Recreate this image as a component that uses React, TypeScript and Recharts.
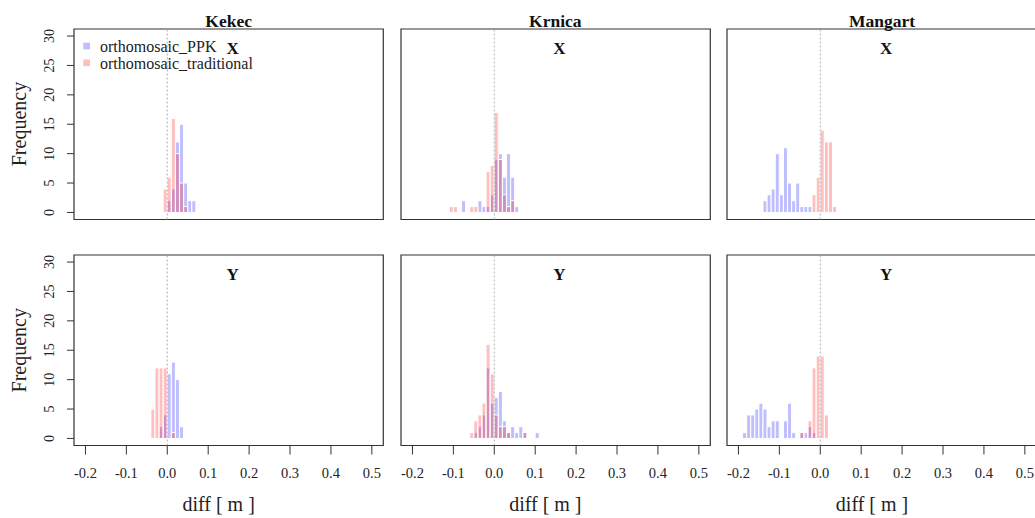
import React from 'react';
import { BarChart, Bar, XAxis, YAxis, ReferenceLine, ReferenceArea } from 'recharts';

// ---------- data (histogram counts per 0.01 m bin; *_START = index k of first bin lower edge k*0.01) ----------
const SITES = ['Kekec', 'Krnica', 'Mangart'];
const COMPONENTS = ['X', 'Y'];
const SERIES_NAMES = ['orthomosaic_PPK', 'orthomosaic_traditional'];
const X_TICKS = [-0.2, -0.1, 0, 0.1, 0.2, 0.3, 0.4, 0.5];
const Y_TICKS = [0, 5, 10, 15, 20, 25, 30];
const BIN_WIDTH = 0.01;

const KEKEC_X_PPK_START = 0;
const KEKEC_X_PPK = [2, 4, 12, 15, 5, 2, 2];
const KEKEC_X_TRAD_START = -1;
const KEKEC_X_TRAD = [4, 6, 16, 10, 5, 1];

const KRNICA_X_PPK_START = -8;
const KRNICA_X_PPK = [2, 0, 0, 0, 2, 1, 1, 3, 9, 10, 6, 10, 6, 1];
const KRNICA_X_TRAD_START = -11;
const KRNICA_X_TRAD = [1, 1, 0, 0, 0, 1, 1, 0, 0, 7, 8, 17, 9, 3, 1, 2];

const MANGART_X_PPK_START = -14;
const MANGART_X_PPK = [2, 3, 4, 10, 3, 11, 5, 2, 5, 1, 1, 1];
const MANGART_X_TRAD_START = -2;
const MANGART_X_TRAD = [3, 6, 14, 12, 12, 1];

const KEKEC_Y_PPK_START = -2;
const KEKEC_Y_PPK = [2, 4, 11, 13, 10, 2];
const KEKEC_Y_TRAD_START = -4;
const KEKEC_Y_TRAD = [5, 12, 12, 12, 0, 1];

const KRNICA_Y_PPK_START = -5;
const KRNICA_Y_PPK = [1, 2, 4, 12, 6, 7, 8, 3, 1, 2, 1, 2, 1, 0, 0, 1];
const KRNICA_Y_TRAD_START = -6;
const KRNICA_Y_TRAD = [1, 3, 4, 6, 16, 11, 4, 2, 2, 1, 0, 0, 0, 1];

const MANGART_Y_PPK_START = -19;
const MANGART_Y_PPK = [1, 4, 4, 5, 6, 5, 2, 3, 3, 0, 3, 6, 1, 0, 1, 1, 2, 1];
const MANGART_Y_TRAD_START = -5;
const MANGART_Y_TRAD = [1, 0, 3, 12, 14, 14, 4];

// ---------- layout ----------
const X_MIN = -0.228;
const X_MAX = 0.528;
const Y_MIN = -1.2;
const Y_MAX = 31.2;
const PLOT_LEFT = [74, 400.7, 727.4];
const PLOT_TOP = [28.8, 255];
const PLOT_W = 309.3;
const PLOT_H = 190.5;
const Y_AXIS_W = 80;
const M_TOP = 20;
const M_RIGHT = 10;
const FONT = '"Liberation Serif", "Times New Roman", serif';
const INK = '#222';

type Panel = { site: number; comp: number; ppk: number[]; ppkStart: number; trad: number[]; tradStart: number };

const PANELS: Panel[] = [
  { site: 0, comp: 0, ppk: KEKEC_X_PPK, ppkStart: KEKEC_X_PPK_START, trad: KEKEC_X_TRAD, tradStart: KEKEC_X_TRAD_START },
  { site: 1, comp: 0, ppk: KRNICA_X_PPK, ppkStart: KRNICA_X_PPK_START, trad: KRNICA_X_TRAD, tradStart: KRNICA_X_TRAD_START },
  { site: 2, comp: 0, ppk: MANGART_X_PPK, ppkStart: MANGART_X_PPK_START, trad: MANGART_X_TRAD, tradStart: MANGART_X_TRAD_START },
  { site: 0, comp: 1, ppk: KEKEC_Y_PPK, ppkStart: KEKEC_Y_PPK_START, trad: KEKEC_Y_TRAD, tradStart: KEKEC_Y_TRAD_START },
  { site: 1, comp: 1, ppk: KRNICA_Y_PPK, ppkStart: KRNICA_Y_PPK_START, trad: KRNICA_Y_TRAD, tradStart: KRNICA_Y_TRAD_START },
  { site: 2, comp: 1, ppk: MANGART_Y_PPK, ppkStart: MANGART_Y_PPK_START, trad: MANGART_Y_TRAD, tradStart: MANGART_Y_TRAD_START },
];

function buildRows(p: Panel) {
  const rows: { x: number; ppk: number; trad: number }[] = [];
  for (let k = -23; k <= 53; k++) {
    const pi = k - p.ppkStart;
    const ti = k - p.tradStart;
    rows.push({
      x: Math.round((k + 0.5) * BIN_WIDTH * 10000) / 10000,
      ppk: pi >= 0 && pi < p.ppk.length ? p.ppk[pi] : 0,
      trad: ti >= 0 && ti < p.trad.length ? p.trad[ti] : 0,
    });
  }
  return rows;
}

const YTick = (props: any) => {
  const { x, y, payload } = props;
  return (
    <text x={x} y={y} transform={`rotate(-90 ${x} ${y})`} textAnchor="middle" fontFamily={FONT} fontSize={14} fill={INK}>
      {payload.value}
    </text>
  );
};

function PanelChart({ p }: { p: Panel }) {
  const col = p.site;
  const row = p.comp;
  const bottom = row === 1;
  const data = buildRows(p);
  const xAxisH = 70;
  const width = Y_AXIS_W + PLOT_W + M_RIGHT;
  const height = M_TOP + PLOT_H + (bottom ? xAxisH : 10);
  return (
    <div style={{ position: 'absolute', left: PLOT_LEFT[col] - Y_AXIS_W, top: PLOT_TOP[row] - M_TOP }}>
      <BarChart
        width={width}
        height={height}
        data={data}
        margin={{ top: M_TOP, right: M_RIGHT, left: 0, bottom: bottom ? 0 : 10 }}
        barCategoryGap={0}
        barGap={0}
      >
        <XAxis
          xAxisId="a"
          dataKey="x"
          type="number"
          domain={[X_MIN, X_MAX]}
          allowDataOverflow
          ticks={X_TICKS}
          interval={0}
          hide={!bottom}
          height={xAxisH}
          tickSize={9}
          tickMargin={13}
          axisLine={false}
          stroke="#333"
          tickLine={{ stroke: '#333' }}
          tickFormatter={(v: number) => v.toFixed(1)}
          tick={{ fontFamily: FONT, fontSize: 14.5, fill: INK }}
        />
        <XAxis xAxisId="b" dataKey="x" type="number" domain={[X_MIN, X_MAX]} allowDataOverflow hide />
        <YAxis
          type="number"
          domain={[Y_MIN, Y_MAX]}
          allowDataOverflow
          ticks={Y_TICKS}
          interval={0}
          width={Y_AXIS_W}
          axisLine={false}
          tickLine={col === 0 ? { stroke: '#333' } : false}
          tickSize={7}
          tickMargin={13}
          tick={col === 0 ? <YTick /> : false}
        />
        <Bar xAxisId="a" dataKey="ppk" fill="#0000ff" fillOpacity={0.25} stroke="#ffffff" strokeWidth={1} isAnimationActive={false} />
        <Bar xAxisId="b" dataKey="trad" fill="#ff0000" fillOpacity={0.25} stroke="#ffffff" strokeWidth={1} isAnimationActive={false} />
        <ReferenceLine xAxisId="a" x={0} stroke="#b0b0b0" strokeDasharray="2 2" strokeWidth={1} />
        <ReferenceArea
          xAxisId="a"
          x1={X_MIN}
          x2={X_MAX}
          y1={Y_MIN}
          y2={Y_MAX}
          fill="none"
          fillOpacity={0}
          stroke="#333"
          strokeWidth={1.2}
          ifOverflow="visible"
        />
      </BarChart>
    </div>
  );
}

const xToPx = (col: number, v: number) => PLOT_LEFT[col] + ((v - X_MIN) / (X_MAX - X_MIN)) * PLOT_W;
const yToPx = (row: number, v: number) => PLOT_TOP[row] + ((Y_MAX - v) / (Y_MAX - Y_MIN)) * PLOT_H;

export default function App() {
  return (
    <div style={{ position: 'absolute', left: 0, top: 0, width: 1035, height: 518, overflow: 'hidden', background: '#fff' }}>
      {PANELS.map((p, i) => (
        <PanelChart key={i} p={p} />
      ))}
      <svg width={1035} height={518} style={{ position: 'absolute', left: 0, top: 0, pointerEvents: 'none' }}>
        {SITES.map((s, c) => (
          <text key={s} x={PLOT_LEFT[c] + PLOT_W / 2} y={26.5} textAnchor="middle" fontFamily={FONT} fontWeight="bold" fontSize={17.5} fill="#111">
            {s}
          </text>
        ))}
        {COMPONENTS.map((comp, r) =>
          SITES.map((s, c) => (
            <text key={comp + s} x={xToPx(c, 0.16)} y={yToPx(r, 27.9) + 6} textAnchor="middle" fontFamily={FONT} fontWeight="bold" fontSize={17} fill="#111">
              {comp}
            </text>
          ))
        )}
        {COMPONENTS.map((comp, r) => (
          <text
            key={'f' + comp}
            x={26}
            y={PLOT_TOP[r] + PLOT_H / 2}
            transform={`rotate(-90 26 ${PLOT_TOP[r] + PLOT_H / 2})`}
            textAnchor="middle"
            fontFamily={FONT}
            fontSize={20}
            fill={INK}
          >
            Frequency
          </text>
        ))}
        {SITES.map((s, c) => (
          <text key={'d' + s} x={PLOT_LEFT[c] + PLOT_W / 2 - 10} y={511} textAnchor="middle" fontFamily={FONT} fontSize={20} fill={INK}>
            diff [ m ]
          </text>
        ))}
        <rect x={83.3} y={42.7} width={6.7} height={6.7} fill="#bfbfff" />
        <text x={100} y={51.5} fontFamily={FONT} fontSize={16} fill={INK}>
          {SERIES_NAMES[0]}
        </text>
        <rect x={83.3} y={59.5} width={6.7} height={6.7} fill="#ffbfbf" />
        <text x={100} y={68.8} fontFamily={FONT} fontSize={16} fill={INK}>
          {SERIES_NAMES[1]}
        </text>
      </svg>
    </div>
  );
}
